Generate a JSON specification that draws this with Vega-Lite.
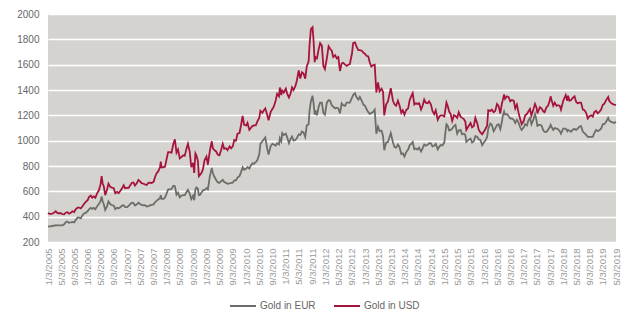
{
"$schema": "https://vega.github.io/schema/vega-lite/v6.json",
"width": 568, "height": 228,
"autosize": {"type": "none"},
"padding": {"left": 48, "top": 14, "right": 12, "bottom": 71},
"background": "white",
"config": {"view": {"fill": "#d4d3cf", "stroke": null}, "font": "Liberation Sans"},
"data": {"values": [
{"d":"2005-01-03","u":429,"e":321},{"d":"2005-01-17","u":422,"e":324},{"d":"2005-02-01","u":422,"e":324},{"d":"2005-02-15","u":425,"e":328},{"d":"2005-03-01","u":432,"e":327},{"d":"2005-03-15","u":443,"e":332},{"d":"2005-04-01","u":428,"e":331},{"d":"2005-04-15","u":427,"e":331},{"d":"2005-05-02","u":428,"e":332},{"d":"2005-05-16","u":420,"e":331},{"d":"2005-06-01","u":418,"e":340},{"d":"2005-06-15","u":431,"e":356},{"d":"2005-07-01","u":435,"e":362},{"d":"2005-07-15","u":423,"e":351},{"d":"2005-08-01","u":430,"e":354},{"d":"2005-08-16","u":443,"e":359},{"d":"2005-09-01","u":437,"e":354},{"d":"2005-09-15","u":458,"e":373},{"d":"2005-10-03","u":472,"e":393},{"d":"2005-10-17","u":472,"e":392},{"d":"2005-11-01","u":465,"e":387},{"d":"2005-11-15","u":480,"e":410},{"d":"2005-12-01","u":500,"e":425},{"d":"2005-12-15","u":515,"e":430},
{"d":"2006-01-03","u":530,"e":443},{"d":"2006-01-16","u":555,"e":458},{"d":"2006-02-01","u":567,"e":470},{"d":"2006-02-15","u":550,"e":462},{"d":"2006-03-01","u":560,"e":470},{"d":"2006-03-15","u":550,"e":458},{"d":"2006-04-03","u":588,"e":485},{"d":"2006-04-17","u":608,"e":500},{"d":"2006-05-02","u":655,"e":522},{"d":"2006-05-12","u":720,"e":560},{"d":"2006-05-22","u":660,"e":520},{"d":"2006-06-01","u":640,"e":498},{"d":"2006-06-14","u":570,"e":452},{"d":"2006-06-30","u":610,"e":478},{"d":"2006-07-14","u":660,"e":520},{"d":"2006-07-31","u":635,"e":498},{"d":"2006-08-15","u":630,"e":492},{"d":"2006-09-01","u":625,"e":487},{"d":"2006-09-15","u":585,"e":460},{"d":"2006-10-02","u":595,"e":470},{"d":"2006-10-16","u":585,"e":466},{"d":"2006-11-01","u":605,"e":474},{"d":"2006-11-15","u":622,"e":487},{"d":"2006-12-01","u":648,"e":490},{"d":"2006-12-15","u":625,"e":476},
{"d":"2007-01-03","u":628,"e":476},{"d":"2007-01-16","u":627,"e":485},{"d":"2007-02-01","u":650,"e":500},{"d":"2007-02-15","u":668,"e":510},{"d":"2007-03-01","u":670,"e":507},{"d":"2007-03-15","u":645,"e":488},{"d":"2007-04-02","u":665,"e":498},{"d":"2007-04-16","u":690,"e":510},{"d":"2007-05-01","u":678,"e":500},{"d":"2007-05-15","u":665,"e":493},{"d":"2007-06-01","u":660,"e":490},{"d":"2007-06-15","u":655,"e":490},{"d":"2007-07-02","u":650,"e":480},{"d":"2007-07-16","u":667,"e":484},{"d":"2007-08-01","u":668,"e":489},{"d":"2007-08-15","u":665,"e":493},{"d":"2007-09-03","u":675,"e":496},{"d":"2007-09-17","u":715,"e":515},{"d":"2007-10-01","u":743,"e":525},{"d":"2007-10-15","u":757,"e":535},{"d":"2007-11-01","u":790,"e":546},{"d":"2007-11-08","u":835,"e":570},{"d":"2007-11-15","u":790,"e":540},{"d":"2007-12-03","u":790,"e":540},{"d":"2007-12-17","u":795,"e":552},
{"d":"2008-01-02","u":860,"e":585},{"d":"2008-01-15","u":910,"e":615},{"d":"2008-02-01","u":910,"e":615},{"d":"2008-02-15","u":905,"e":618},{"d":"2008-03-03","u":975,"e":643},{"d":"2008-03-17","u":1011,"e":640},{"d":"2008-04-01","u":905,"e":573},{"d":"2008-04-15","u":930,"e":590},{"d":"2008-05-01","u":860,"e":553},{"d":"2008-05-15","u":870,"e":565},{"d":"2008-06-02","u":885,"e":570},{"d":"2008-06-16","u":880,"e":570},{"d":"2008-07-01","u":935,"e":593},{"d":"2008-07-15","u":975,"e":612},{"d":"2008-08-01","u":910,"e":583},{"d":"2008-08-15","u":790,"e":538},{"d":"2008-09-01","u":825,"e":565},{"d":"2008-09-11","u":745,"e":530},{"d":"2008-09-22","u":900,"e":615},{"d":"2008-10-01","u":885,"e":630},{"d":"2008-10-15","u":840,"e":620},{"d":"2008-10-24","u":720,"e":570},{"d":"2008-11-03","u":730,"e":572},{"d":"2008-11-17","u":745,"e":590},{"d":"2008-12-01","u":775,"e":610},{"d":"2008-12-15","u":845,"e":610},
{"d":"2009-01-02","u":875,"e":625},{"d":"2009-01-15","u":810,"e":615},{"d":"2009-02-02","u":920,"e":718},{"d":"2009-02-20","u":995,"e":785},{"d":"2009-03-02","u":940,"e":742},{"d":"2009-03-16","u":925,"e":715},{"d":"2009-04-01","u":915,"e":690},{"d":"2009-04-15","u":890,"e":672},{"d":"2009-05-01","u":885,"e":667},{"d":"2009-05-15","u":920,"e":678},{"d":"2009-06-01","u":975,"e":690},{"d":"2009-06-15","u":935,"e":673},{"d":"2009-07-01","u":940,"e":667},{"d":"2009-07-15","u":925,"e":660},{"d":"2009-08-03","u":955,"e":663},{"d":"2009-08-17","u":940,"e":667},{"d":"2009-09-01","u":955,"e":668},{"d":"2009-09-15","u":1005,"e":686},{"d":"2009-10-01","u":1000,"e":686},{"d":"2009-10-15","u":1055,"e":708},{"d":"2009-11-02","u":1060,"e":720},{"d":"2009-11-16","u":1120,"e":750},{"d":"2009-12-01","u":1195,"e":790},{"d":"2009-12-15","u":1125,"e":770},
{"d":"2010-01-04","u":1120,"e":780},{"d":"2010-01-15","u":1140,"e":792},{"d":"2010-02-01","u":1085,"e":780},{"d":"2010-02-15","u":1100,"e":805},{"d":"2010-03-01","u":1115,"e":822},{"d":"2010-03-15","u":1120,"e":818},{"d":"2010-04-01","u":1120,"e":830},{"d":"2010-04-15","u":1150,"e":845},{"d":"2010-05-03","u":1180,"e":890},{"d":"2010-05-14","u":1235,"e":975},{"d":"2010-06-01","u":1220,"e":995},{"d":"2010-06-15","u":1240,"e":1010},{"d":"2010-06-28","u":1255,"e":1025},{"d":"2010-07-15","u":1205,"e":940},{"d":"2010-07-28","u":1160,"e":890},{"d":"2010-08-16","u":1225,"e":955},{"d":"2010-09-01","u":1250,"e":975},{"d":"2010-09-15","u":1270,"e":970},{"d":"2010-10-01","u":1315,"e":960},{"d":"2010-10-15","u":1370,"e":980},{"d":"2010-11-01","u":1350,"e":970},{"d":"2010-11-09","u":1420,"e":1020},{"d":"2010-11-22","u":1360,"e":995},{"d":"2010-12-01","u":1395,"e":1060},{"d":"2010-12-15","u":1380,"e":1045},
{"d":"2011-01-03","u":1410,"e":1055},{"d":"2011-01-18","u":1365,"e":1020},{"d":"2011-02-01","u":1340,"e":980},{"d":"2011-02-15","u":1370,"e":1012},{"d":"2011-03-01","u":1420,"e":1032},{"d":"2011-03-15","u":1400,"e":1000},{"d":"2011-04-01","u":1430,"e":1005},{"d":"2011-04-15","u":1475,"e":1020},{"d":"2011-05-02","u":1555,"e":1050},{"d":"2011-05-16","u":1490,"e":1045},{"d":"2011-06-01","u":1540,"e":1072},{"d":"2011-06-15","u":1530,"e":1065},{"d":"2011-07-01","u":1490,"e":1030},{"d":"2011-07-15","u":1585,"e":1120},{"d":"2011-08-01","u":1625,"e":1130},{"d":"2011-08-10","u":1760,"e":1240},{"d":"2011-08-22","u":1880,"e":1310},{"d":"2011-09-06","u":1895,"e":1355},{"d":"2011-09-15","u":1800,"e":1300},{"d":"2011-09-26","u":1620,"e":1205},{"d":"2011-10-03","u":1660,"e":1240},{"d":"2011-10-17","u":1650,"e":1200},{"d":"2011-11-01","u":1720,"e":1265},{"d":"2011-11-15","u":1770,"e":1300},{"d":"2011-12-01","u":1750,"e":1300},{"d":"2011-12-15","u":1590,"e":1220},{"d":"2011-12-29","u":1565,"e":1205},
{"d":"2012-01-16","u":1650,"e":1300},{"d":"2012-02-01","u":1745,"e":1320},{"d":"2012-02-15","u":1725,"e":1315},{"d":"2012-03-01","u":1710,"e":1280},{"d":"2012-03-15","u":1660,"e":1268},{"d":"2012-04-02","u":1675,"e":1255},{"d":"2012-04-16","u":1650,"e":1260},{"d":"2012-05-01","u":1660,"e":1255},{"d":"2012-05-16","u":1550,"e":1215},{"d":"2012-06-01","u":1610,"e":1295},{"d":"2012-06-15","u":1615,"e":1280},{"d":"2012-07-02","u":1600,"e":1275},{"d":"2012-07-16","u":1590,"e":1300},{"d":"2012-08-01","u":1600,"e":1300},{"d":"2012-08-15","u":1605,"e":1300},{"d":"2012-09-04","u":1690,"e":1340},{"d":"2012-09-14","u":1770,"e":1360},{"d":"2012-10-01","u":1775,"e":1375},{"d":"2012-10-15","u":1745,"e":1345},{"d":"2012-11-01","u":1715,"e":1325},{"d":"2012-11-15","u":1715,"e":1345},{"d":"2012-12-03","u":1710,"e":1315},{"d":"2012-12-17","u":1695,"e":1285},
{"d":"2013-01-02","u":1685,"e":1275},{"d":"2013-01-15","u":1670,"e":1250},{"d":"2013-02-01","u":1665,"e":1225},{"d":"2013-02-15","u":1615,"e":1210},{"d":"2013-03-01","u":1585,"e":1220},{"d":"2013-03-15","u":1595,"e":1225},{"d":"2013-04-01","u":1600,"e":1245},{"d":"2013-04-16","u":1380,"e":1055},{"d":"2013-05-01","u":1460,"e":1110},{"d":"2013-05-16","u":1390,"e":1075},{"d":"2013-06-03","u":1410,"e":1080},{"d":"2013-06-17","u":1385,"e":1035},{"d":"2013-06-28","u":1200,"e":925},{"d":"2013-07-15","u":1285,"e":985},{"d":"2013-08-01","u":1310,"e":990},{"d":"2013-08-27","u":1415,"e":1060},{"d":"2013-09-16","u":1315,"e":985},{"d":"2013-10-01","u":1285,"e":950},{"d":"2013-10-15","u":1275,"e":945},{"d":"2013-11-01","u":1315,"e":970},{"d":"2013-11-15","u":1280,"e":950},{"d":"2013-12-02","u":1220,"e":895},{"d":"2013-12-16","u":1240,"e":900},{"d":"2013-12-31","u":1205,"e":875},
{"d":"2014-01-15","u":1240,"e":908},{"d":"2014-02-03","u":1255,"e":930},{"d":"2014-02-17","u":1320,"e":963},{"d":"2014-03-03","u":1350,"e":975},{"d":"2014-03-17","u":1375,"e":990},{"d":"2014-04-01","u":1285,"e":932},{"d":"2014-04-15","u":1295,"e":938},{"d":"2014-05-01","u":1290,"e":930},{"d":"2014-05-15","u":1295,"e":945},{"d":"2014-06-02","u":1245,"e":915},{"d":"2014-06-16","u":1275,"e":940},{"d":"2014-07-01","u":1325,"e":970},{"d":"2014-07-15","u":1300,"e":960},{"d":"2014-08-01","u":1295,"e":967},{"d":"2014-08-15","u":1310,"e":980},{"d":"2014-09-01","u":1285,"e":978},{"d":"2014-09-15","u":1235,"e":955},{"d":"2014-10-01","u":1210,"e":960},{"d":"2014-10-15","u":1240,"e":975},{"d":"2014-11-03","u":1165,"e":932},{"d":"2014-11-17","u":1190,"e":953},{"d":"2014-12-01","u":1200,"e":965},{"d":"2014-12-15","u":1200,"e":962},
{"d":"2015-01-02","u":1190,"e":985},{"d":"2015-01-15","u":1260,"e":1085},{"d":"2015-01-22","u":1300,"e":1130},{"d":"2015-02-02","u":1275,"e":1120},{"d":"2015-02-16","u":1230,"e":1080},{"d":"2015-03-02","u":1210,"e":1085},{"d":"2015-03-16","u":1155,"e":1095},{"d":"2015-04-01","u":1200,"e":1115},{"d":"2015-04-15","u":1195,"e":1125},{"d":"2015-05-01","u":1180,"e":1055},{"d":"2015-05-15","u":1225,"e":1080},{"d":"2015-06-01","u":1190,"e":1085},{"d":"2015-06-15","u":1180,"e":1050},{"d":"2015-07-01","u":1170,"e":1055},{"d":"2015-07-15","u":1150,"e":1045},{"d":"2015-07-24","u":1085,"e":990},{"d":"2015-08-17","u":1120,"e":1010},{"d":"2015-09-01","u":1140,"e":1015},{"d":"2015-09-15","u":1105,"e":985},{"d":"2015-10-01","u":1115,"e":995},{"d":"2015-10-15","u":1180,"e":1035},{"d":"2015-11-02","u":1135,"e":1030},{"d":"2015-11-16","u":1085,"e":1010},{"d":"2015-12-01","u":1065,"e":1005},{"d":"2015-12-17","u":1050,"e":965},
{"d":"2016-01-04","u":1075,"e":990},{"d":"2016-01-15","u":1090,"e":1000},{"d":"2016-02-01","u":1120,"e":1030},{"d":"2016-02-11","u":1240,"e":1095},{"d":"2016-03-01","u":1235,"e":1135},{"d":"2016-03-15","u":1245,"e":1125},{"d":"2016-04-01","u":1225,"e":1075},{"d":"2016-04-15","u":1235,"e":1095},{"d":"2016-05-02","u":1290,"e":1125},{"d":"2016-05-16","u":1275,"e":1130},{"d":"2016-06-01","u":1215,"e":1090},{"d":"2016-06-15","u":1290,"e":1145},{"d":"2016-06-24","u":1320,"e":1195},{"d":"2016-07-06","u":1365,"e":1230},{"d":"2016-07-15","u":1330,"e":1205},{"d":"2016-08-01","u":1350,"e":1210},{"d":"2016-08-15","u":1345,"e":1195},{"d":"2016-09-01","u":1310,"e":1175},{"d":"2016-09-15","u":1320,"e":1175},{"d":"2016-10-03","u":1315,"e":1165},{"d":"2016-10-17","u":1255,"e":1140},{"d":"2016-11-01","u":1285,"e":1165},{"d":"2016-11-15","u":1225,"e":1145},{"d":"2016-12-01","u":1170,"e":1105},{"d":"2016-12-15","u":1130,"e":1085},
{"d":"2017-01-03","u":1155,"e":1105},{"d":"2017-01-16","u":1200,"e":1130},{"d":"2017-02-01","u":1210,"e":1120},{"d":"2017-02-15","u":1230,"e":1160},{"d":"2017-03-01","u":1250,"e":1180},{"d":"2017-03-15","u":1200,"e":1130},{"d":"2017-04-03","u":1250,"e":1170},{"d":"2017-04-17","u":1290,"e":1210},{"d":"2017-05-01","u":1260,"e":1160},{"d":"2017-05-09","u":1215,"e":1110},{"d":"2017-05-15","u":1230,"e":1125},{"d":"2017-06-01","u":1265,"e":1125},{"d":"2017-06-15","u":1255,"e":1120},{"d":"2017-07-03","u":1230,"e":1080},{"d":"2017-07-14","u":1225,"e":1070},{"d":"2017-08-01","u":1265,"e":1070},{"d":"2017-08-15","u":1275,"e":1085},{"d":"2017-09-01","u":1320,"e":1110},{"d":"2017-09-08","u":1350,"e":1125},{"d":"2017-09-15","u":1325,"e":1110},{"d":"2017-10-02","u":1275,"e":1085},{"d":"2017-10-16","u":1300,"e":1100},{"d":"2017-11-01","u":1275,"e":1095},{"d":"2017-11-15","u":1280,"e":1090},{"d":"2017-12-01","u":1275,"e":1075},{"d":"2017-12-12","u":1245,"e":1055},
{"d":"2018-01-02","u":1315,"e":1095},{"d":"2018-01-15","u":1340,"e":1095},{"d":"2018-01-25","u":1360,"e":1095},{"d":"2018-02-08","u":1315,"e":1075},{"d":"2018-02-15","u":1355,"e":1085},{"d":"2018-03-01","u":1315,"e":1078},{"d":"2018-03-15","u":1320,"e":1070},{"d":"2018-04-02","u":1340,"e":1090},{"d":"2018-04-16","u":1350,"e":1092},{"d":"2018-05-01","u":1305,"e":1085},{"d":"2018-05-15","u":1295,"e":1095},{"d":"2018-06-01","u":1300,"e":1112},{"d":"2018-06-15","u":1300,"e":1115},{"d":"2018-07-02","u":1245,"e":1070},{"d":"2018-07-16","u":1240,"e":1060},{"d":"2018-08-01","u":1220,"e":1045},{"d":"2018-08-16","u":1175,"e":1030},{"d":"2018-09-03","u":1195,"e":1030},{"d":"2018-09-17","u":1200,"e":1030},{"d":"2018-10-01","u":1190,"e":1030},{"d":"2018-10-15","u":1225,"e":1060},{"d":"2018-11-01","u":1235,"e":1085},{"d":"2018-11-15","u":1215,"e":1075},{"d":"2018-12-03","u":1230,"e":1085},{"d":"2018-12-17","u":1245,"e":1095},
{"d":"2019-01-02","u":1285,"e":1130},{"d":"2019-01-15","u":1290,"e":1130},{"d":"2019-02-01","u":1320,"e":1150},{"d":"2019-02-20","u":1345,"e":1180},{"d":"2019-03-01","u":1315,"e":1160},{"d":"2019-03-15","u":1300,"e":1150},{"d":"2019-04-01","u":1290,"e":1145},{"d":"2019-04-15","u":1285,"e":1140},{"d":"2019-05-03","u":1282,"e":1148}
]},
"transform": [{"fold": ["e", "u"], "as": ["cur", "price"]}],
"mark": {"type": "line", "strokeWidth": 1.8},
"encoding": {
  "x": {"field": "d", "type": "temporal",
    "scale": {"domain": [{"year":2005,"month":1,"date":3},{"year":2019,"month":5,"date":3}]},
    "axis": {"title": null, "format": "%-m/%-d/%Y", "labelAngle": -90, "labelFontSize": 9.5, "labelColor": "#999999",
      "grid": false, "domain": false, "ticks": false, "labelPadding": 6, "labelOverlap": false, "labelBound": false, "labelFlush": false,
      "values": [
        {"year":2005,"month":1,"date":3},{"year":2005,"month":5,"date":3},{"year":2005,"month":9,"date":3},
        {"year":2006,"month":1,"date":3},{"year":2006,"month":5,"date":3},{"year":2006,"month":9,"date":3},
        {"year":2007,"month":1,"date":3},{"year":2007,"month":5,"date":3},{"year":2007,"month":9,"date":3},
        {"year":2008,"month":1,"date":3},{"year":2008,"month":5,"date":3},{"year":2008,"month":9,"date":3},
        {"year":2009,"month":1,"date":3},{"year":2009,"month":5,"date":3},{"year":2009,"month":9,"date":3},
        {"year":2010,"month":1,"date":3},{"year":2010,"month":5,"date":3},{"year":2010,"month":9,"date":3},
        {"year":2011,"month":1,"date":3},{"year":2011,"month":5,"date":3},{"year":2011,"month":9,"date":3},
        {"year":2012,"month":1,"date":3},{"year":2012,"month":5,"date":3},{"year":2012,"month":9,"date":3},
        {"year":2013,"month":1,"date":3},{"year":2013,"month":5,"date":3},{"year":2013,"month":9,"date":3},
        {"year":2014,"month":1,"date":3},{"year":2014,"month":5,"date":3},{"year":2014,"month":9,"date":3},
        {"year":2015,"month":1,"date":3},{"year":2015,"month":5,"date":3},{"year":2015,"month":9,"date":3},
        {"year":2016,"month":1,"date":3},{"year":2016,"month":5,"date":3},{"year":2016,"month":9,"date":3},
        {"year":2017,"month":1,"date":3},{"year":2017,"month":5,"date":3},{"year":2017,"month":9,"date":3},
        {"year":2018,"month":1,"date":3},{"year":2018,"month":5,"date":3},{"year":2018,"month":9,"date":3},
        {"year":2019,"month":1,"date":3},{"year":2019,"month":5,"date":3}
      ]}},
  "y": {"field": "price", "type": "quantitative",
    "scale": {"domain": [200, 2000], "nice": false, "zero": false},
    "axis": {"title": null, "format": "d", "values": [200,400,600,800,1000,1200,1400,1600,1800,2000], "grid": true, "gridColor": "#ffffff", "gridWidth": 1.5,
      "domain": false, "ticks": false, "labelColor": "#666666", "labelFontSize": 10, "labelPadding": 9}},
  "color": {"field": "cur", "type": "nominal",
    "scale": {"domain": ["e", "u"], "range": ["#6d6e69", "#a6143e"]},
    "legend": {"orient": "none", "legendX": 181, "legendY": 278, "direction": "horizontal", "title": null,
      "symbolType": "stroke", "symbolSize": 676, "symbolStrokeWidth": 2, "labelFontSize": 10, "labelColor": "#666666",
      "labelExpr": "datum.label == 'e' ? 'Gold in EUR' : 'Gold in USD'", "columnPadding": 14, "labelOffset": 3}}
}
}
